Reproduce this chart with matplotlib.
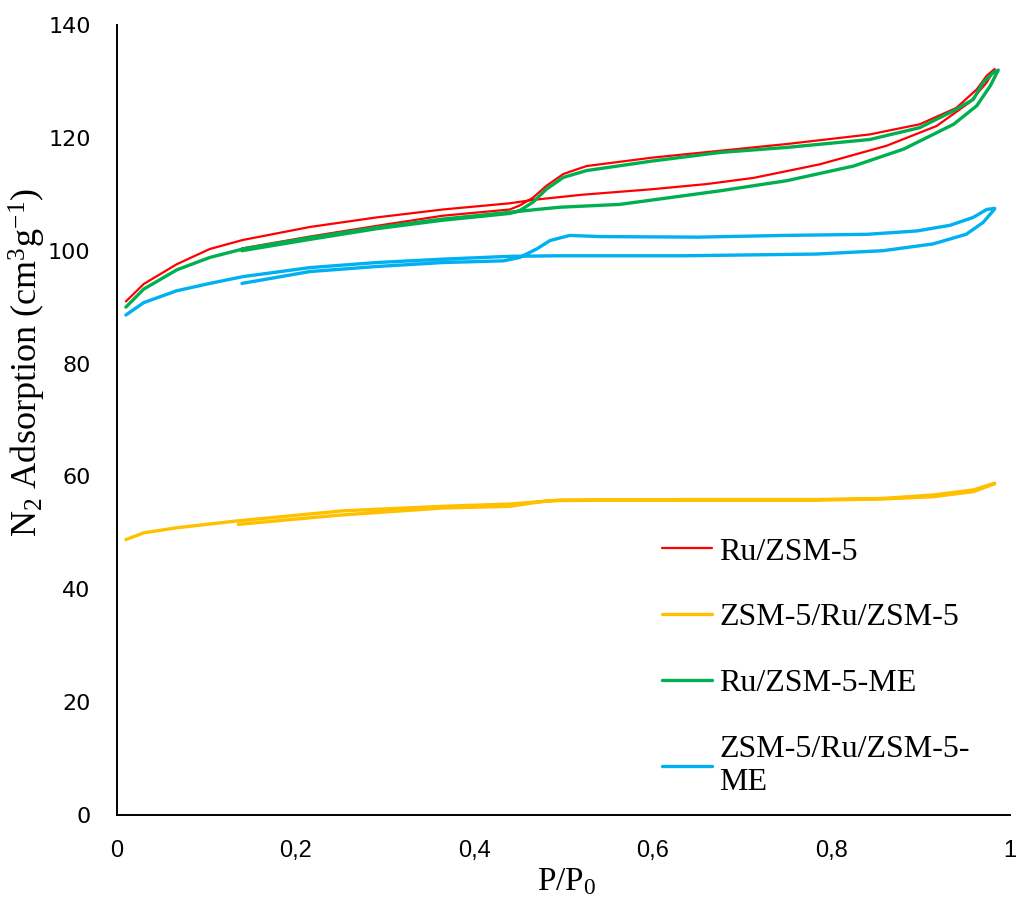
import matplotlib

matplotlib.use("Agg")
import matplotlib.pyplot as plt
from matplotlib.ticker import FuncFormatter

plt.rcParams["mathtext.fontset"] = "custom"
plt.rcParams["mathtext.rm"] = "Liberation Serif"
plt.rcParams["mathtext.it"] = "Liberation Serif:italic"

# N2 isotherms: adsorption branch (low -> high P/P0), then desorption (high -> low)
ru_ads_p = [0.01, 0.03, 0.067, 0.104, 0.141, 0.216, 0.291, 0.365, 0.44, 0.466,
            0.52, 0.60, 0.66, 0.713, 0.787, 0.862, 0.918, 0.955, 0.974, 0.983]
ru_ads_v = [91.0, 94.1, 97.6, 100.3, 101.9, 104.2, 105.9, 107.3, 108.4, 109.0,
            109.9, 110.9, 111.8, 112.9, 115.3, 118.6, 122.1, 126.3, 129.8, 132.2]
ru_des_p = [0.983, 0.974, 0.963, 0.94, 0.899, 0.843, 0.75, 0.675, 0.60, 0.526,
            0.50, 0.481, 0.466, 0.451, 0.44, 0.365, 0.291, 0.216, 0.14]
ru_des_v = [132.2, 131.0, 128.6, 125.3, 122.4, 120.6, 118.9, 117.7, 116.5, 115.0,
            113.6, 111.5, 109.4, 108.0, 107.3, 106.2, 104.4, 102.5, 100.4]

sandwich_ads_p = [0.01, 0.03, 0.067, 0.134, 0.253, 0.365, 0.44, 0.496, 0.634,
                  0.783, 0.858, 0.914, 0.959, 0.983]
sandwich_ads_v = [48.8, 50.0, 50.9, 52.1, 53.9, 54.7, 55.1, 55.8, 55.8,
                  55.8, 56.0, 56.4, 57.3, 58.7]
sandwich_des_p = [0.983, 0.959, 0.914, 0.858, 0.783, 0.634, 0.485, 0.474, 0.44,
                  0.365, 0.246, 0.136]
sandwich_des_v = [58.8, 57.6, 56.7, 56.1, 55.9, 55.9, 55.7, 55.5, 54.7,
                  54.4, 53.1, 51.5]

ru_me_ads_p = [0.01, 0.03, 0.067, 0.104, 0.141, 0.216, 0.291, 0.365, 0.44, 0.47,
               0.496, 0.563, 0.675, 0.75, 0.825, 0.881, 0.937, 0.963, 0.978, 0.987]
ru_me_ads_v = [90.0, 93.2, 96.6, 98.8, 100.3, 102.3, 104.1, 105.6, 106.8, 107.3,
               107.7, 108.2, 110.6, 112.4, 115.0, 118.0, 122.4, 125.7, 129.2, 132.0]
ru_me_des_p = [0.987, 0.981, 0.970, 0.959, 0.937, 0.899, 0.843, 0.75, 0.675, 0.60,
               0.526, 0.50, 0.481, 0.466, 0.451, 0.44, 0.365, 0.291, 0.216, 0.14]
ru_me_des_v = [132.0, 131.5, 129.8, 126.8, 124.8, 121.8, 119.7, 118.3, 117.4, 115.9,
               114.2, 113.0, 110.9, 108.6, 107.1, 106.6, 105.4, 103.9, 102.0, 100.0]

sandwich_me_ads_p = [0.01, 0.03, 0.067, 0.104, 0.141, 0.216, 0.291, 0.365, 0.44,
                     0.496, 0.634, 0.783, 0.858, 0.914, 0.951, 0.970, 0.983]
sandwich_me_ads_v = [88.6, 90.8, 92.9, 94.2, 95.4, 97.0, 97.9, 98.5, 99.0,
                     99.1, 99.1, 99.4, 100.0, 101.2, 102.9, 105.0, 107.4]
sandwich_me_des_p = [0.983, 0.974, 0.959, 0.933, 0.896, 0.84, 0.746, 0.65, 0.541,
                     0.507, 0.485, 0.47, 0.451, 0.433, 0.365, 0.291, 0.216, 0.14]
sandwich_me_des_v = [107.5, 107.3, 105.9, 104.5, 103.5, 102.9, 102.7, 102.4, 102.5,
                     102.7, 101.8, 100.3, 98.8, 98.2, 97.9, 97.2, 96.3, 94.2]

series = [
    ("Ru/ZSM-5", ru_ads_p + ru_des_p, ru_ads_v + ru_des_v, "#FF0000", 1.6),
    ("ZSM-5/Ru/ZSM-5", sandwich_ads_p + sandwich_des_p,
     sandwich_ads_v + sandwich_des_v, "#FFC000", 2.4),
    ("Ru/ZSM-5-ME", ru_me_ads_p + ru_me_des_p, ru_me_ads_v + ru_me_des_v,
     "#00B050", 2.4),
    ("ZSM-5/Ru/ZSM-5-\nME", sandwich_me_ads_p + sandwich_me_des_p,
     sandwich_me_ads_v + sandwich_me_des_v, "#00B0F0", 2.4),
]

fig = plt.figure(figsize=(10.17, 9.11), dpi=100)
ax = fig.add_axes([0.115, 0.1054, 0.878, 0.8672])

for label, p, v, color, lw in series:
    ax.plot(p, v, color=color, lw=lw, label=label,
            solid_joinstyle="round", solid_capstyle="round")

ax.set_xlim(0, 1)
ax.set_ylim(0, 140)
ax.set_xticks([0, 0.2, 0.4, 0.6, 0.8, 1.0])
ax.set_yticks(range(0, 141, 20))
ax.xaxis.set_major_formatter(FuncFormatter(lambda v, _: f"{v:g}".replace(".", ",")))
ax.tick_params(length=0)
ax.tick_params(axis="y", pad=19, labelsize=16)
ax.tick_params(axis="x", pad=18, labelsize=17)
for t in ax.get_xticklabels():
    t.set_fontfamily("Liberation Sans")
ax.spines[["top", "right"]].set_visible(False)
for s in ("left", "bottom"):
    ax.spines[s].set_linewidth(1.4)

ax.set_ylabel(r"N$_2$ Adsorption (cm$^3$g$^{-1}$)", family="Liberation Serif",
              fontsize=26)
ax.yaxis.set_label_coords(-0.077, 0.573)
ax.set_xlabel(r"P/P$_0$", family="Liberation Serif", fontsize=24)
ax.xaxis.set_label_coords(0.504, -0.065)

ax.legend(loc="upper left", bbox_to_anchor=(0.578, 0.388), frameon=False,
          prop={"family": "Liberation Serif", "size": 23},
          handlelength=1.57, handletextpad=0.22, labelspacing=1.14)

fig.savefig("out.png")
